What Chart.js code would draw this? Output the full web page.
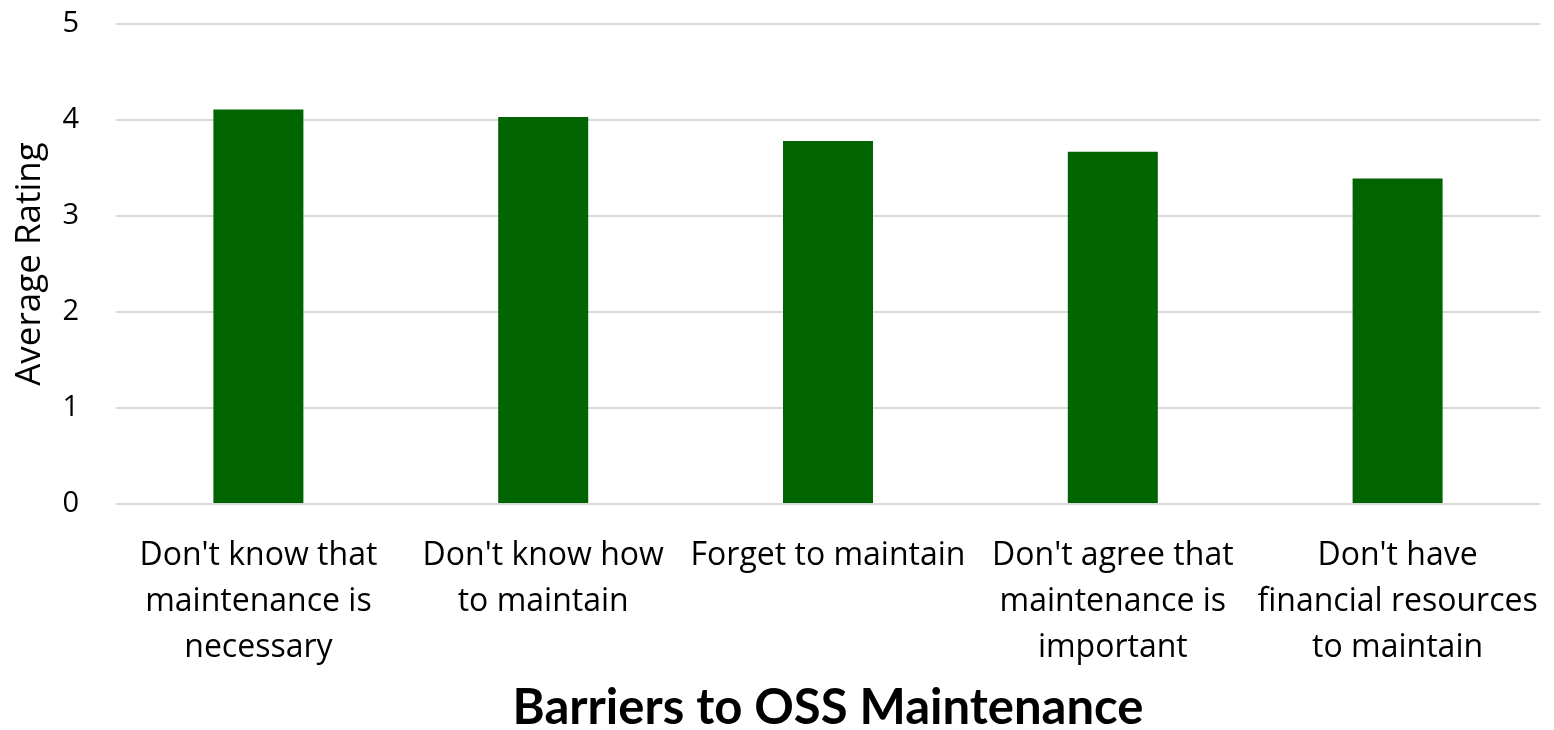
<!DOCTYPE html>
<html>
<head>
<meta charset="utf-8">
<script src="https://cdn.jsdelivr.net/npm/chart.js@4"></script>
<style>
  html, body { margin: 0; padding: 0; background: #fff; }
  #wrap { width: 1554px; height: 730px; }
</style>
</head>
<body>
<div id="wrap"><canvas id="chart"></canvas></div>
<script>
const barriers = [
    ["Don't know that", 'maintenance is', 'necessary'],
    ["Don't know how", 'to maintain'],
    'Forget to maintain',
    ["Don't agree that", 'maintenance is', 'important'],
    ["Don't have", 'financial resources', 'to maintain'],
];
const ratings = [4.11, 4.03, 3.78, 3.67, 3.39];
const yTicks = [0, 1, 2, 3, 4, 5];

const font = '"Open Sans", sans-serif';

new Chart(document.getElementById('chart'), {
    type: 'bar',
    data: {
        labels: barriers,
        datasets: [{
            data: ratings,
            backgroundColor: '#006400',
            barPercentage: 0.316,
            categoryPercentage: 1,
        }],
    },
    options: {
        responsive: true,
        maintainAspectRatio: false,
        animation: { duration: 0 },
        layout: { padding: { left: 0, right: 14, top: 24, bottom: 0 } },
        plugins: {
            legend: { display: false },
            tooltip: { enabled: false },
        },
        scales: {
            x: {
                grid: { display: false },
                border: { display: false },
                ticks: {
                    color: '#000',
                    font: { family: font, size: 32, lineHeight: 1.44 },
                    padding: 21,
                    maxRotation: 0,
                    autoSkip: false,
                },
                title: {
                    display: true,
                    text: 'Barriers to OSS Maintenance',
                    color: '#000',
                    font: { family: 'Lato, sans-serif', size: 49, weight: 'bold', lineHeight: 1 },
                    padding: { top: 10, bottom: -3 },
                },
                afterFit: scale => {
                    // pin the axis box so the plot area matches the reference
                    scale.height = 226;
                    scale.paddingTop = 0;
                    scale.paddingBottom = 0;
                    scale.paddingLeft = 0;
                    scale.paddingRight = 0;
                },
            },
            y: {
                min: 0,
                max: 5,
                afterBuildTicks: axis => {
                    axis.ticks = yTicks.map(v => ({ value: v }));
                },
                grid: { color: '#d9d9d9', lineWidth: 2, drawTicks: false },
                border: { display: false },
                ticks: {
                    color: '#000',
                    font: { family: font, size: 29 },
                    padding: 37,
                },
                title: {
                    display: true,
                    text: 'Average Rating',
                    color: '#000',
                    font: { family: font, size: 35, lineHeight: 1 },
                    padding: { top: 13, bottom: 0 },
                },
                afterFit: scale => {
                    scale.width = 116;
                    scale.paddingTop = 0;
                    scale.paddingBottom = 0;
                },
            },
        },
    },
});
</script>
</body>
</html>
